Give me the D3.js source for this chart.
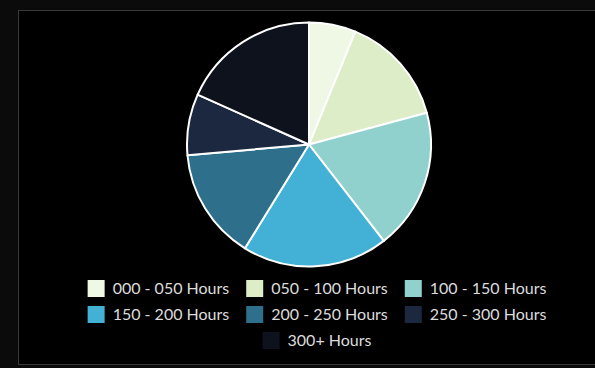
<!DOCTYPE html>
<html>
<head>
<meta charset="utf-8">
<script src="https://cdn.jsdelivr.net/npm/d3@7"></script>
<style>
  html, body { margin: 0; padding: 0; background: #0b0b0b; }
  svg { display: block; }
  .legend text { font-family: Lato, "Open Sans", sans-serif; font-size: 16px; fill: #dcdcdc; }
</style>
</head>
<body>
<svg id="chart" width="595" height="368"></svg>
<script>
// hours bands and the share of each band
const bands  = ['000 - 050 Hours', '050 - 100 Hours', '100 - 150 Hours', '150 - 200 Hours',
                '200 - 250 Hours', '250 - 300 Hours', '300+ Hours'];
const counts = [62, 146, 187, 193, 148, 81, 183];
const colors = ['#eef8e4', '#ddedc8', '#90d0cd', '#43b1d5', '#2e6f8c', '#1c2740', '#0d121c'];

const svg = d3.select('#chart');
const W = 595, H = 368;

// panel frame
svg.append('rect')
  .attr('x', 18.5).attr('y', 10.5)
  .attr('width', W).attr('height', 354)
  .attr('fill', '#000')
  .attr('stroke', '#3a3a3a');

const data = bands.map((b, i) => ({ band: b, value: counts[i] }));
const color = d3.scaleOrdinal().domain(bands).range(colors);

const pie = d3.pie().value(d => d.value).sort(null);
const arc = d3.arc().innerRadius(0).outerRadius(122);

const g = svg.append('g').attr('transform', 'translate(309,144.5)');
g.selectAll('path')
  .data(pie(data))
  .join('path')
    .attr('d', arc)
    .attr('fill', d => color(d.data.band))
    .attr('stroke', '#fff')
    .attr('stroke-width', 2)
    .attr('stroke-linejoin', 'round');

// legend: 3 per row, rows centred
const legend = svg.append('g').attr('class', 'legend');
const sw = 17, pad = 8, gap = 17, rowH = 26, perRow = 3, legendX = 317, legendY = 280;

const items = legend.selectAll('g')
  .data(bands)
  .join('g');
items.append('rect')
  .attr('width', sw).attr('height', sw)
  .attr('fill', d => color(d));
items.append('text')
  .attr('x', sw + pad)
  .attr('y', sw / 2)
  .attr('dy', '0.36em')
  .text(d => d);

const widths = [];
items.each(function() {
  widths.push(sw + pad + d3.select(this).select('text').node().getComputedTextLength());
});

d3.range(0, bands.length, perRow).forEach(start => {
  const idx = d3.range(start, Math.min(start + perRow, bands.length));
  const total = d3.sum(idx, i => widths[i]) + gap * (idx.length - 1);
  let x = legendX - total / 2;
  idx.forEach(i => {
    d3.select(items.nodes()[i])
      .attr('transform', `translate(${x},${legendY + Math.floor(start / perRow) * rowH})`);
    x += widths[i] + gap;
  });
});
</script>
</body>
</html>
